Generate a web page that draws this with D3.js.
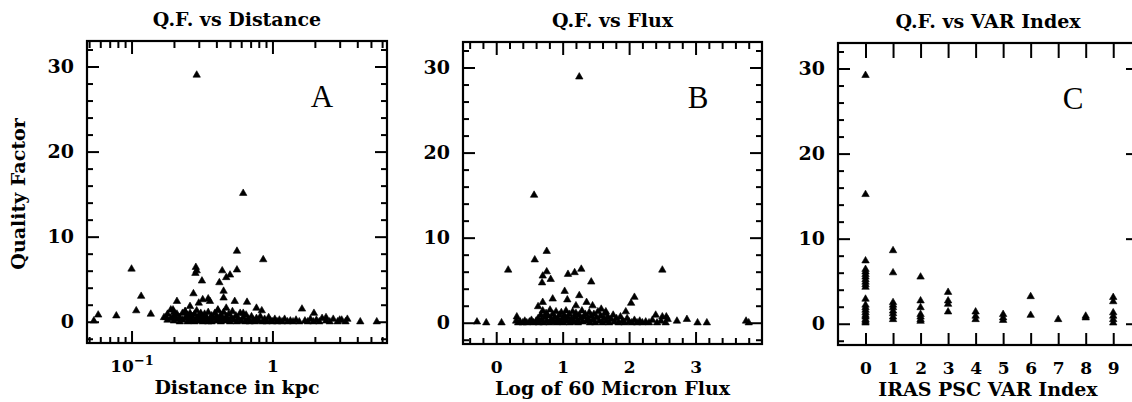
<!DOCTYPE html>
<html>
<head>
<meta charset="utf-8">
<script src="https://cdn.jsdelivr.net/npm/d3@7"></script>
<style>
  body { margin: 0; background: #fff; }
  text { fill: #000; }
</style>
</head>
<body>
<svg id="chart" width="1132" height="402"></svg>
<script>
// ---- data ----
// panel A: [distance in kpc, quality factor]
const ptsA = [
  [0.054,0.1],[0.058,0.8],[0.078,0.7],[0.1,6.2],[0.108,1.3],[0.117,3.0],[0.137,0.9],[0.176,0.5],
  [0.197,1.4],[0.21,2.4],[0.24,1.2],[0.26,1.8],[0.275,3.3],[0.29,29.0],[0.286,6.4],[0.29,6.0],
  [0.284,5.7],[0.30,2.2],[0.316,4.8],[0.32,2.6],[0.35,2.7],[0.36,2.4],[0.42,4.6],[0.44,6.0],
  [0.47,5.2],[0.50,5.5],[0.56,6.1],[0.56,8.3],[0.45,3.6],[0.45,2.8],[0.54,2.4],[0.62,15.1],
  [0.66,2.3],[0.62,1.0],[0.41,1.4],[0.47,1.6],[0.77,1.6],[0.84,1.3],[0.86,7.3],[1.62,1.5],
  [1.97,1.0],[2.4,0.5],[3.0,0.2],[3.4,0.3],[4.2,0.0],[5.5,0.0],
  [0.17,0.5],[0.18,0.2],[0.18,0.9],[0.19,0.4],[0.19,1.4],[0.2,0.1],[0.2,0.7],[0.2,1.1],
  [0.21,0.3],[0.21,0.9],[0.22,0.0],[0.22,0.5],[0.23,0.2],[0.23,1.0],[0.24,0.4],[0.24,1.2],
  [0.25,0.0],[0.25,0.7],[0.26,0.3],[0.26,1.0],[0.27,0.1],[0.27,0.6],[0.28,0.9],[0.28,0.0],
  [0.29,0.4],[0.29,1.3],[0.30,0.1],[0.30,0.7],[0.31,0.3],[0.31,1.0],[0.32,0.0],[0.32,0.6],
  [0.33,0.9],[0.33,0.2],[0.34,0.5],[0.35,0.0],[0.35,1.1],[0.36,0.3],[0.37,0.7],[0.37,0.0],
  [0.38,0.4],[0.39,1.0],[0.40,0.1],[0.40,0.6],[0.41,1.3],[0.42,0.3],[0.43,0.0],[0.43,0.8],
  [0.44,0.4],[0.45,1.1],[0.46,0.1],[0.47,0.6],[0.48,0.2],[0.49,0.9],[0.50,0.0],[0.51,0.5],
  [0.52,1.2],[0.53,0.2],[0.55,0.7],[0.56,0.0],[0.57,0.4],[0.59,1.0],[0.60,0.1],[0.62,0.5],
  [0.64,0.0],[0.65,0.8],[0.67,0.3],[0.69,0.0],[0.71,0.6],[0.73,0.2],[0.75,0.0],[0.77,0.4],
  [0.80,0.1],[0.82,0.6],[0.85,0.0],[0.88,0.3],[0.91,0.0],[0.94,0.5],[0.97,0.1],[1.0,0.0],
  [1.04,0.3],[1.08,0.0],[1.12,0.2],[1.17,0.0],[1.22,0.3],[1.28,0.0],[1.34,0.1],[1.40,0.0],
  [1.47,0.2],[1.55,0.0],[1.70,0.1],[1.78,0.0],[1.86,0.3],[1.95,0.0],[2.05,0.2],[2.15,0.0],
  [2.25,0.4],[2.4,0.1],[2.55,0.0],[2.7,0.3],[2.9,0.0],[3.1,0.2],[3.3,0.0]
];

// panel B: [log of 60 micron flux, quality factor]
const ptsB = [
  [-0.29,0.1],[-0.15,0.0],[0.08,0.0],[0.18,6.2],[0.31,0.7],[0.57,15.0],[0.58,7.4],[0.76,8.4],
  [0.76,6.0],[0.70,5.5],[0.69,4.7],[0.82,5.1],[1.08,5.7],[1.18,5.9],[1.25,28.9],[1.28,6.3],
  [1.43,4.8],[1.03,3.7],[1.25,3.2],[1.07,2.7],[0.85,2.8],[0.70,2.4],[0.63,1.9],[1.20,2.0],
  [1.36,2.4],[1.45,2.0],[1.58,1.6],[1.65,1.3],[1.95,1.3],[2.03,2.3],[2.08,3.0],[2.4,0.9],
  [2.5,6.2],[2.5,0.7],[2.56,0.7],[2.72,0.2],[2.87,0.4],[3.03,0.0],[3.17,0.0],[3.76,0.2],[3.80,0.0],
  [0.30,0.2],[0.33,0.0],[0.36,0.1],[0.40,0.0],[0.43,0.2],[0.46,0.0],[0.50,0.1],[0.53,0.3],
  [0.56,0.0],[0.60,0.2],[0.63,0.5],[0.64,0.0],[0.67,0.9],[0.68,0.3],[0.70,1.4],[0.71,0.0],
  [0.73,0.6],[0.75,1.1],[0.76,0.2],[0.78,0.8],[0.80,0.0],[0.81,1.5],[0.83,0.4],[0.85,1.0],
  [0.86,0.1],[0.88,0.6],[0.90,1.3],[0.91,0.0],[0.93,0.4],[0.95,0.9],[0.96,0.1],[0.98,1.2],
  [1.00,0.5],[1.01,0.0],[1.03,0.8],[1.05,1.4],[1.06,0.2],[1.08,0.6],[1.10,1.0],[1.11,0.0],
  [1.13,0.4],[1.15,1.3],[1.17,0.1],[1.18,0.7],[1.20,1.1],[1.22,0.3],[1.23,0.0],[1.25,0.9],
  [1.27,0.5],[1.29,1.4],[1.30,0.1],[1.32,0.7],[1.34,1.0],[1.36,0.2],[1.38,0.5],[1.40,1.2],
  [1.41,0.0],[1.43,0.8],[1.45,0.3],[1.47,1.0],[1.49,0.0],[1.51,0.6],[1.53,1.3],[1.55,0.2],
  [1.57,0.8],[1.60,0.0],[1.62,0.5],[1.64,1.1],[1.66,0.2],[1.68,0.7],[1.70,0.0],[1.73,0.4],
  [1.76,0.9],[1.78,0.1],[1.81,0.5],[1.84,0.0],[1.87,0.7],[1.90,0.2],[1.93,0.0],[1.97,0.5],
  [2.00,0.1],[2.04,0.0],[2.08,0.3],[2.12,0.0],[2.16,0.2],[2.20,0.0],[2.25,0.1],[2.30,0.0],
  [2.35,0.3],[2.42,0.0],[2.48,0.2],[2.55,0.0],[2.58,0.4]
];

// panel C: [IRAS PSC VAR index, quality factor]
const ptsC = [
  [0,29.2],[0,15.2],[0,7.4],[0,6.4],[0,6.1],[0,5.8],[0,5.5],[0,5.2],[0,4.9],[0,4.6],[0,4.3],
  [0,2.9],[0,2.2],[0,1.9],[0,1.6],[0,1.3],[0,1.0],[0,0.8],[0,0.5],[0,0.3],[0,0.1],
  [1,8.6],[1,6.0],[1,2.5],[1,2.2],[1,1.9],[1,1.5],[1,1.2],[1,0.8],[1,0.5],
  [2,5.5],[2,2.7],[2,1.9],[2,1.1],[2,0.8],[2,0.5],[2,0.3],
  [3,3.7],[3,2.7],[3,2.3],[3,1.4],
  [4,1.4],[4,0.9],[4,0.5],
  [5,1.1],[5,0.7],[5,0.4],
  [6,3.2],[6,1.0],
  [7,0.5],
  [8,0.9],[8,0.7],
  [9,3.1],[9,2.6],[9,1.3],[9,0.9],[9,0.5],[9,0.1]
];

// axis ticks
const qfMajor = [0, 10, 20, 30];
const qfMinor = [-2, 2, 4, 6, 8, 12, 14, 16, 18, 22, 24, 26, 28, 32];
const distMajor = [0.1, 1];
const distMinor = [0.05, 0.06, 0.07, 0.08, 0.09, 0.2, 0.3, 0.4, 0.5, 0.6, 0.7, 0.8, 0.9, 2, 3, 4, 5, 6];
const fluxMajor = [0, 1, 2, 3];
const fluxMinor = [-0.4, -0.2, 0.2, 0.4, 0.6, 0.8, 1.2, 1.4, 1.6, 1.8, 2.2, 2.4, 2.6, 2.8, 3.2, 3.4, 3.6, 3.8];
const varMajor = [0, 1, 2, 3, 4, 5, 6, 7, 8, 9];

const serif = '"DejaVu Serif", serif';
const fs = 19;
const svg = d3.select('#chart');
const tri = d3.symbol(d3.symbolTriangle, 24);

function drawPanel(o) {
    const b = o.box;
    const bottom = b.top + b.h, right = b.left + b.w;
    const x = o.x.range([b.left, right]);
    const y = d3.scaleLinear().domain([-2.5, 33]).range([bottom, b.top]);
    const g = svg.append('g');

    const add = (axis, tr, size) => g.append('g')
        .attr('transform', tr)
        .call(axis)
        .call(s => s.select('.domain').remove())
        .attr('font-family', serif)
        .attr('font-size', size || fs)
        .attr('font-weight', 'bold');

    // y ticks (left with labels, right mirrored)
    add(d3.axisLeft(y).tickValues(qfMajor).tickSize(-12).tickPadding(13).tickFormat(d3.format('d')), `translate(${b.left},0)`);
    add(d3.axisLeft(y).tickValues(qfMinor).tickSize(-6).tickFormat(''), `translate(${b.left},0)`);
    add(d3.axisRight(y).tickValues(qfMajor).tickSize(-12).tickFormat(''), `translate(${right},0)`);
    add(d3.axisRight(y).tickValues(qfMinor).tickSize(o.rightMinor ? -6 : 0).tickFormat(''), `translate(${right},0)`);

    // x ticks
    const xb = add(d3.axisBottom(x).tickValues(o.xMajor).tickSize(-12).tickPadding(17).tickFormat(o.fmt), `translate(0,${bottom})`, 17);
    add(d3.axisTop(x).tickValues(o.xMajor).tickSize(-o.topLen).tickFormat(''), `translate(0,${b.top})`);
    if (o.xMinor) {
        add(d3.axisBottom(x).tickValues(o.xMinor).tickSize(-6).tickFormat(''), `translate(0,${bottom})`);
        add(d3.axisTop(x).tickValues(o.xMinor).tickSize(-7).tickFormat(''), `translate(0,${b.top})`);
    }
    if (o.after) o.after(xb);

    g.selectAll('.tick line').attr('stroke', '#000').attr('stroke-width', 2);

    // frame
    g.append('rect')
        .attr('x', b.left).attr('y', b.top)
        .attr('width', b.w).attr('height', b.h)
        .attr('fill', 'none').attr('stroke', '#000').attr('stroke-width', 2.2);

    // points
    g.selectAll('path.pt')
        .data(o.pts)
        .join('path')
            .attr('class', 'pt')
            .attr('d', tri)
            .attr('fill', '#000')
            .attr('stroke', '#000')
            .attr('stroke-width', 0.6)
            .attr('transform', d => `translate(${x(d[0])},${y(d[1])})`);

    // title, x label, panel letter
    g.append('text')
        .attr('x', b.left + b.w / 2).attr('y', b.top - 15)
        .attr('text-anchor', 'middle')
        .style('font-family', serif).style('font-weight', 'bold').style('font-size', fs + 'px')
        .text(o.title);
    g.append('text')
        .attr('x', b.left + b.w / 2).attr('y', bottom + 51)
        .attr('text-anchor', 'middle')
        .style('font-family', serif).style('font-weight', 'bold').style('font-size', fs + 'px')
        .text(o.xLabel);
    g.append('text')
        .attr('x', b.left + 235).attr('y', b.top + 66)
        .attr('text-anchor', 'middle')
        .style('font-family', '"Liberation Serif", serif').style('font-size', '31px')
        .text(o.letter);
}

drawPanel({
    box: { left: 87, top: 41, w: 300, h: 302 },
    x: d3.scaleLog().domain([0.0483, 6.5]),
    xMajor: distMajor, xMinor: distMinor, topLen: 13, rightMinor: true,
    fmt: d => d === 1 ? '1' : '10',
    after: s => s.selectAll('.tick text').filter(d => d === 0.1)
        .append('tspan').attr('dy', '-0.55em').attr('font-size', 13).text('\u22121'),
    pts: ptsA, title: 'Q.F. vs Distance', xLabel: 'Distance in kpc', letter: 'A'
});

drawPanel({
    box: { left: 463, top: 42, w: 299, h: 302 },
    x: d3.scaleLinear().domain([-0.5, 4]),
    xMajor: fluxMajor, xMinor: fluxMinor, topLen: 13, rightMinor: true,
    fmt: d3.format('d'),
    pts: ptsB, title: 'Q.F. vs Flux', xLabel: 'Log of 60 Micron Flux', letter: 'B'
});

drawPanel({
    box: { left: 838, top: 43, w: 300, h: 302 },
    x: d3.scaleLinear().domain([-1, 9.9]),
    xMajor: varMajor, xMinor: null, topLen: 15, rightMinor: false,
    fmt: d3.format('d'),
    pts: ptsC, title: 'Q.F. vs VAR Index', xLabel: 'IRAS PSC VAR Index', letter: 'C'
});

// shared y label
svg.append('text')
    .attr('transform', 'translate(25,194) rotate(-90)')
    .attr('text-anchor', 'middle')
    .style('font-family', serif).style('font-weight', 'bold').style('font-size', fs + 'px')
    .text('Quality Factor');
</script>
</body>
</html>
